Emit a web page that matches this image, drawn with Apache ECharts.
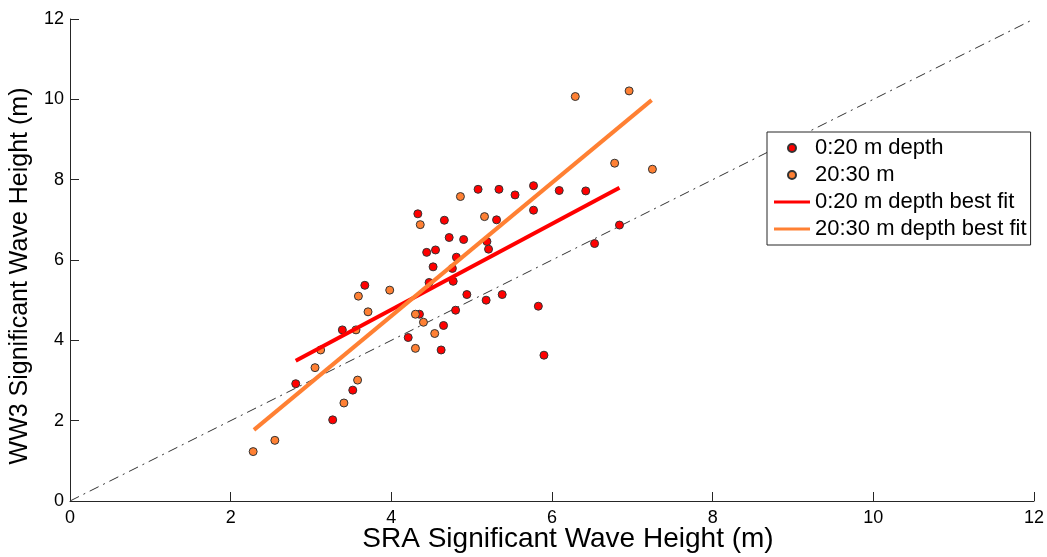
<!DOCTYPE html>
<html>
<head>
<meta charset="utf-8">
<title>WW3 vs SRA</title>
<script src="https://cdn.jsdelivr.net/npm/echarts@6/dist/echarts.min.js"></script>
<style>
	html, body { margin: 0; padding: 0; background: #fff; }
	#chart { width: 1047px; height: 557px; }
</style>
</head>
<body>
<div id="chart"></div>
<script>
	// 0:20 m depth points [SRA, WW3]
	var shallowPts = [
		[2.81, 2.92], [3.27, 2.02], [3.39, 4.26], [3.52, 2.76], [3.67, 5.37],
		[4.21, 4.07], [4.35, 4.65], [4.33, 7.15], [4.44, 6.19], [4.47, 5.44],
		[4.52, 5.83], [4.55, 6.25], [4.62, 3.76], [4.65, 4.37], [4.66, 6.99],
		[4.72, 6.56], [4.76, 5.79], [4.77, 5.47], [4.80, 4.75], [4.81, 6.07],
		[4.90, 6.51], [4.94, 5.14], [5.08, 7.76], [5.18, 5.00], [5.19, 6.46],
		[5.21, 6.27], [5.31, 7.00], [5.34, 7.76], [5.38, 5.14], [5.54, 7.62],
		[5.77, 7.85], [5.77, 7.24], [5.83, 4.85], [5.90, 3.63], [6.09, 7.73],
		[6.42, 7.72], [6.53, 6.41], [6.84, 6.87]
	];
	// 20:30 m points
	var deepPts = [
		[2.28, 1.23], [2.55, 1.51], [3.05, 3.32], [3.12, 3.76], [3.41, 2.44],
		[3.56, 4.26], [3.58, 3.01], [3.59, 5.10], [3.71, 4.71], [3.98, 5.25],
		[4.30, 4.65], [4.30, 3.80], [4.40, 4.45], [4.36, 6.88], [4.54, 4.17],
		[4.86, 7.58], [5.16, 7.08], [6.29, 10.07], [6.78, 8.41], [6.96, 10.21],
		[7.25, 8.26]
	];
	// best fit end points
	var shallowFit = [[2.81, 3.49], [6.84, 7.80]];
	var deepFit = [[2.29, 1.77], [7.24, 9.98]];
	// 1:1 reference
	var oneToOne = [[0, 0], [12, 12]];

	var seriesNames = ['0:20 m depth', '20:30 m', '0:20 m depth best fit', '20:30 m depth best fit'];

	var FONT = 'Liberation Sans, Arial, sans-serif';
	var RED = '#ff0000';
	var ORANGE = '#ff8033';
	var LINE_ICON = 'path://M0,0L36,0L36,3L0,3Z';

	var chart = echarts.init(document.getElementById('chart'));

	var axisCommon = {
		type: 'value',
		min: 0,
		max: 12,
		interval: 2,
		nameLocation: 'middle',
		axisLine: { show: true, onZero: false, lineStyle: { color: '#262626', width: 1 } },
		axisTick: { show: true, inside: true, length: 9, lineStyle: { color: '#262626' } },
		axisLabel: { fontSize: 18, color: '#000', fontFamily: FONT },
		splitLine: { show: false }
	};

	var option = {
		animation: false,
		backgroundColor: '#fff',
		grid: { left: 70, right: 13, top: 19, bottom: 56, containLabel: false, outerBoundsMode: 'none' },
		legend: {
			orient: 'vertical',
			left: 767,
			top: 132,
			padding: [5, 4, 5, 7],
			itemGap: 5,
			itemWidth: 36,
			itemHeight: 8,
			backgroundColor: '#fff',
			borderColor: '#262626',
			borderWidth: 1,
			borderRadius: 0,
			textStyle: { fontSize: 22, color: '#000', fontFamily: FONT },
			data: [
				{ name: seriesNames[0], icon: 'circle' },
				{ name: seriesNames[1], icon: 'circle' },
				{ name: seriesNames[2], icon: LINE_ICON },
				{ name: seriesNames[3], icon: LINE_ICON }
			]
		},
		series: [
			{
				name: '1:1',
				type: 'line',
				data: oneToOne,
				symbol: 'none',
				silent: true,
				lineStyle: { color: '#333', width: 1, type: [10, 5, 2, 5] },
				z: 1
			},
			{
				name: seriesNames[0],
				type: 'scatter',
				data: shallowPts,
				symbolSize: 8,
				itemStyle: { color: RED, borderColor: '#333', borderWidth: 1, opacity: 1 },
				z: 2
			},
			{
				name: seriesNames[1],
				type: 'scatter',
				data: deepPts,
				symbolSize: 8,
				itemStyle: { color: ORANGE, borderColor: '#333', borderWidth: 1, opacity: 1 },
				z: 2
			},
			{
				name: seriesNames[2],
				type: 'line',
				data: shallowFit,
				symbol: 'none',
				lineStyle: { color: RED, width: 4 },
				itemStyle: { color: RED },
				z: 3
			},
			{
				name: seriesNames[3],
				type: 'line',
				data: deepFit,
				symbol: 'none',
				lineStyle: { color: ORANGE, width: 4 },
				itemStyle: { color: ORANGE },
				z: 3
			}
		]
	};

	option.xAxis = Object.assign({}, axisCommon, {
		name: 'SRA Significant Wave Height (m)',
		nameGap: 24,
		nameMoveOverlap: false,
		nameTextStyle: { fontSize: 28, color: '#000', fontFamily: FONT, padding: [0, 0, 0, 32] },
		axisLabel: Object.assign({}, axisCommon.axisLabel, { margin: 8 })
	});
	option.yAxis = Object.assign({}, axisCommon, {
		name: 'WW3 Significant Wave Height (m)',
		nameGap: 22,
		nameTextStyle: { fontSize: 25, color: '#000', fontFamily: FONT, padding: [0, 32, 0, 0] },
		axisLabel: Object.assign({}, axisCommon.axisLabel, { margin: 6 })
	});

	chart.setOption(option);
</script>
</body>
</html>
